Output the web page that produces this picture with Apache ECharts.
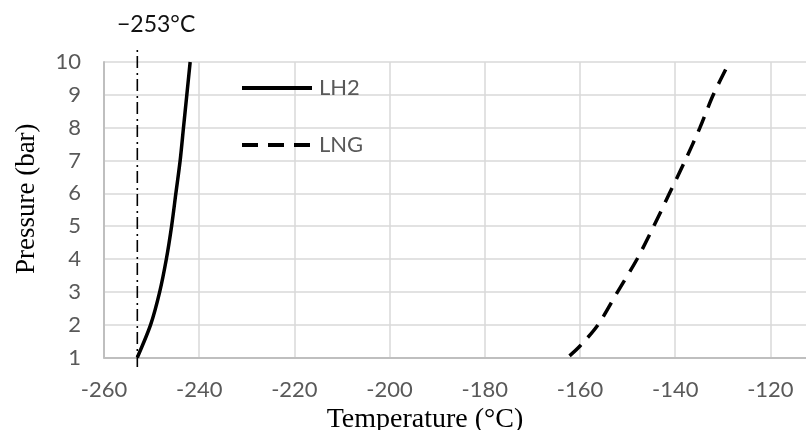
<!DOCTYPE html>
<html>
<head>
<meta charset="utf-8">
<style>
  html, body { margin: 0; padding: 0; background: #fff; }
  #chartDiv { width: 806px; height: 430px; }
</style>
</head>
<body>
<div id="chartDiv"></div>

<script src="https://cdn.jsdelivr.net/npm/echarts@6/dist/echarts.min.js"></script>
<script type="text/javascript">
    // saturation curves
    var lh2Temp = [-253.0, -250.2, -248.3, -246.9, -245.8, -244.9, -244.0, -243.3, -242.6, -241.9];
    var lh2Pres = [1, 2, 3, 4, 5, 6, 7, 8, 9, 10];

    var lngTemp = [-162.2, -160.0, -156.2, -152.1, -148.0, -144.5, -141.2, -137.9, -134.8, -132.0, -128.6];
    var lngPres = [1.05, 1.35, 2, 3, 4, 5, 6, 7, 8, 9, 10];

    // reference line at the LH2 boiling point
    var refTemp = [-253, -253];
    var refPres = [0.71, 10.37];
    var refLabel = '\u2212253\u00b0C';

    var seriesNames = ['LH2', 'LNG'];

    function pairs(xs, ys) {
        return xs.map(function (x, i) { return [x, ys[i]]; });
    }

    var labelFont = 'Lato';
    var gray = '#595959';

    var myChart = echarts.init(document.getElementById('chartDiv'));

    var option = {
        animation: false,
        title: {
            text: refLabel,
            left: 117,
            top: 13,
            padding: 0,
            textStyle: {
                fontFamily: labelFont,
                fontSize: 23,
                fontWeight: 'normal',
                color: '#111'
            }
        },
        legend: {
            data: seriesNames,
            orient: 'vertical',
            left: 240,
            top: 77,
            padding: 0,
            itemWidth: 70,
            itemHeight: 14,
            itemGap: 35,
            itemStyle: { opacity: 0 },
            lineStyle: { color: '#000', width: 4 },
            textStyle: {
                fontFamily: labelFont,
                fontSize: 22,
                color: gray,
                padding: [0, 0, 0, 2]
            }
        },
        grid: {
            left: 104,
            right: -12,
            top: 62,
            bottom: 72.5,
            outerBoundsMode: 'none'
        },
        xAxis: {
            type: 'value',
            min: -260,
            max: -110,
            interval: 20,
            name: 'Temperature (\u00b0C)',
            nameLocation: 'middle',
            nameGap: 39,
            nameTextStyle: {
                fontFamily: 'Liberation Serif',
                fontSize: 28,
                color: '#000',
                padding: [0, 72, 0, 0]
            },
            axisLine: { lineStyle: { color: '#bfbfbf', width: 2 } },
            axisTick: { show: false },
            axisLabel: {
                margin: 21,
                fontFamily: labelFont,
                fontSize: 22,
                color: gray,
                formatter: function (v) { return v % 20 === 0 ? String(v) : ''; }
            },
            splitLine: { show: true, lineStyle: { color: '#d9d9d9', width: 1.5 } }
        },
        yAxis: {
            type: 'value',
            min: 1,
            max: 10,
            interval: 1,
            name: 'Pressure (bar)',
            nameLocation: 'middle',
            nameGap: 64,
            nameTextStyle: {
                fontFamily: 'Liberation Serif',
                fontSize: 27,
                color: '#000',
                padding: [0, 0, 0, 22]
            },
            axisLine: { show: true, lineStyle: { color: '#bfbfbf', width: 2 } },
            axisTick: { show: false },
            axisLabel: {
                margin: 23,
                fontFamily: labelFont,
                fontSize: 22,
                color: gray
            },
            splitLine: { show: true, lineStyle: { color: '#d9d9d9', width: 1.5 } }
        },
        series: [{
            name: 'LH2',
            type: 'line',
            data: pairs(lh2Temp, lh2Pres),
            smooth: 0.3,
            symbol: 'none',
            lineStyle: { color: '#000', width: 3.5 },
            itemStyle: { color: '#000' }
        }, {
            name: 'LNG',
            type: 'line',
            data: pairs(lngTemp, lngPres),
            smooth: 0.3,
            symbol: 'none',
            lineStyle: { color: '#000', width: 3.5, type: [16, 10] },
            itemStyle: { color: '#000' }
        }, {
            name: 'ref',
            type: 'line',
            data: pairs(refTemp, refPres),
            clip: false,
            symbol: 'none',
            silent: true,
            lineStyle: { color: '#000', width: 1.6, type: [12, 4, 2, 5] },
            z: 1
        }]
    };

    myChart.setOption(option);
</script>
</body>
</html>
